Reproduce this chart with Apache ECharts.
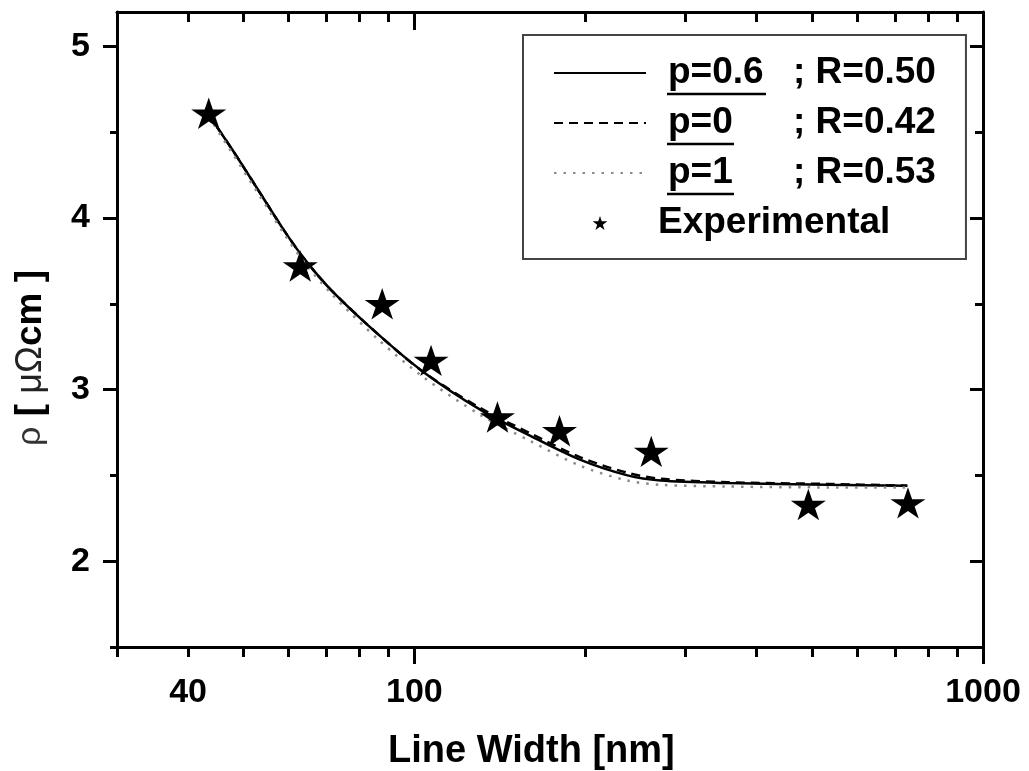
<!DOCTYPE html>
<html>
<head>
<meta charset="utf-8">
<script src="https://cdn.jsdelivr.net/npm/echarts@6/dist/echarts.min.js"></script>
<style>
html,body{margin:0;padding:0;background:#fff;}
#chart{width:1029px;height:771px;}
</style>
</head>
<body>
<div id="chart"></div>
<script>
// ---- data ----
const fitWidths = [43.5, 47.8, 53.2, 59.2, 64.1, 71.4, 86.5, 104, 131, 160, 196, 237, 271, 356, 532, 736];
const fitP06 = [4.60, 4.40, 4.16, 3.92, 3.76, 3.58, 3.32, 3.10, 2.88, 2.73, 2.59, 2.50, 2.47, 2.455, 2.445, 2.44];
const fitP0  = [4.60, 4.40, 4.16, 3.92, 3.76, 3.58, 3.32, 3.10, 2.89, 2.745, 2.605, 2.515, 2.48, 2.46, 2.45, 2.44];
const fitP1  = [4.59, 4.38, 4.14, 3.90, 3.74, 3.56, 3.29, 3.07, 2.85, 2.70, 2.555, 2.47, 2.445, 2.435, 2.43, 2.43];
const expWidths = [43.5, 63, 87.8, 107, 140, 180, 261, 493, 738];
const expRho = [4.61, 3.72, 3.50, 3.17, 2.84, 2.76, 2.64, 2.33, 2.34];

const fitNames = ['p=0.6', 'p=0', 'p=1'];
const fitR = ['; R=0.50', '; R=0.42', '; R=0.53'];
const expName = 'Experimental';

const xLabelTicks = [40, 100, 1000];
const xMajorTicks = [100, 1000];
const xMinorTicks = [30, 40, 50, 60, 70, 80, 90, 200, 300, 400, 500, 600, 700, 800, 900];
const yLabelTicks = [2, 3, 4, 5];
const yMinorTicks = [1.5, 2.5, 3.5, 4.5];
const xMin = 30, xMax = 1000, yMin = 1.5, yMax = 5.2;

// ---- chart ----
const FONT = '"Liberation Sans", Arial, sans-serif';
const INK = '#000';
const lg = v => Math.log10(v);
const pair = (xs, ys) => xs.map((x, i) => [x, ys[i]]);
const starPath = 'path://M50,0 L61.23,34.55 L97.55,34.55 L68.17,55.9 L79.39,90.45 L50,69.1 L20.61,90.45 L31.83,55.9 L2.45,34.55 L38.77,34.55 Z';

function tickAxisX(position, ticks, len, inside, withLine, labels) {
  return {
    type: 'value', position: position, min: lg(xMin), max: lg(xMax),
    axisLine: {show: withLine, onZero: false, lineStyle: {color: INK, width: 3}},
    axisTick: {show: true, inside: inside, length: len, customValues: ticks.map(lg), lineStyle: {color: INK, width: 3}},
    axisLabel: labels ? {
      show: true, customValues: labels.map(lg), margin: 29,
      formatter: v => String(Math.round(Math.pow(10, v))),
      color: INK, fontFamily: FONT, fontWeight: 'bold', fontSize: 34
    } : {show: false},
    splitLine: {show: false}
  };
}
function tickAxisY(position, ticks, len, inside, withLine, labels) {
  return {
    type: 'value', position: position, min: yMin, max: yMax,
    axisLine: {show: withLine, onZero: false, lineStyle: {color: INK, width: 3}},
    axisTick: {show: true, inside: inside, length: len, customValues: ticks, lineStyle: {color: INK, width: 3}},
    axisLabel: labels ? {
      show: true, customValues: labels, margin: 27,
      color: INK, fontFamily: FONT, fontWeight: 'bold', fontSize: 34
    } : {show: false},
    splitLine: {show: false}
  };
}

const chart = echarts.init(document.getElementById('chart'), null, {renderer: 'canvas'});
const lineBase = {type: 'line', xAxisIndex: 0, yAxisIndex: 0, showSymbol: false, symbol: 'none', smooth: 0.3, z: 2};
const hiddenMarker = {opacity: 0};

const option = {
  animation: false,
  backgroundColor: '#fff',
  grid: {left: 117, right: 46, top: 12, bottom: 124},
  xAxis: [
    {type: 'log', logBase: 10, min: xMin, max: xMax, show: false},
    tickAxisX('bottom', xMajorTicks, 17, false, true, xLabelTicks),
    tickAxisX('bottom', xMinorTicks, 10, false, false, null),
    tickAxisX('top', xMajorTicks, 18, true, true, null),
    tickAxisX('top', xMinorTicks, 10, true, false, null)
  ],
  yAxis: [
    tickAxisY('left', yLabelTicks, 14, false, true, yLabelTicks),
    tickAxisY('left', yMinorTicks, 7, false, false, null),
    tickAxisY('right', yLabelTicks, 13, true, true, null),
    tickAxisY('right', yMinorTicks, 8, true, false, null)
  ],
  legend: {
    orient: 'vertical', left: 523, top: 35,
    padding: [18, 30, 16, 30],
    itemWidth: 92, itemHeight: 14, itemGap: 10,
    borderColor: '#444', borderWidth: 2, backgroundColor: '#fff',
    data: [
      {name: fitNames[0], itemStyle: hiddenMarker},
      {name: fitNames[1], itemStyle: hiddenMarker},
      {name: fitNames[2], itemStyle: hiddenMarker},
      {name: expName, icon: starPath}
    ],
    formatter: function (name) {
      const i = fitNames.indexOf(name);
      if (i >= 0) return '{sp| }{a|' + name + '}{b|' + fitR[i] + '}';
      return '{sp2| }{a|' + name + '}';
    },
    textStyle: {
      color: INK, fontFamily: FONT, fontWeight: 'bold', fontSize: 37, lineHeight: 40,
      rich: {
        sp: {width: 17, fontSize: 37, lineHeight: 40},
        sp2: {width: 7, fontSize: 37, lineHeight: 40},
        a: {width: 125, color: INK, fontFamily: FONT, fontWeight: 'bold', fontSize: 37, lineHeight: 40},
        b: {color: INK, fontFamily: FONT, fontWeight: 'bold', fontSize: 37, lineHeight: 40}
      }
    }
  },
  graphic: [
    {type: 'line', shape: {x1: 667, y1: 94, x2: 766, y2: 94}, style: {stroke: INK, lineWidth: 2.5}, z: 100},
    {type: 'line', shape: {x1: 667, y1: 144, x2: 734, y2: 144}, style: {stroke: INK, lineWidth: 2.5}, z: 100},
    {type: 'line', shape: {x1: 667, y1: 194, x2: 734, y2: 194}, style: {stroke: INK, lineWidth: 2.5}, z: 100},
    {
      type: 'text', left: 388, top: 733,
      style: {text: 'Line Width [nm]', fill: INK, font: 'bold 38px ' + FONT}
    },
    {
      type: 'text', x: 31, y: 358, rotation: Math.PI / 2,
      style: {
        text: '{r|ρ} {b|[} {s|μΩ}{b|cm} {b|]}',
        align: 'center', verticalAlign: 'middle',
        rich: {
          r: {fill: '#333', fontFamily: FONT, fontSize: 34, fontWeight: 'normal'},
          s: {fill: '#222', fontFamily: FONT, fontSize: 36, fontWeight: 'normal'},
          b: {fill: INK, fontFamily: FONT, fontSize: 37, fontWeight: 'bold'}
        },
        fill: INK, fontFamily: FONT, fontSize: 37, fontWeight: 'bold'
      }
    }
  ],
  series: [
    Object.assign({}, lineBase, {name: fitNames[0], data: pair(fitWidths, fitP06),
      lineStyle: {color: INK, width: 2.5, type: 'solid'}, itemStyle: {color: INK}}),
    Object.assign({}, lineBase, {name: fitNames[1], data: pair(fitWidths, fitP0),
      lineStyle: {color: INK, width: 2.5, type: [9, 6]}, itemStyle: {color: INK}}),
    Object.assign({}, lineBase, {name: fitNames[2], data: pair(fitWidths, fitP1),
      lineStyle: {color: '#8a8a8a', width: 2.5, type: [2.5, 7]}, itemStyle: {color: '#8a8a8a'}}),
    {
      type: 'scatter', name: expName, xAxisIndex: 0, yAxisIndex: 0,
      data: pair(expWidths, expRho), symbol: starPath, symbolKeepAspect: true,
      symbolSize: [35, 33], itemStyle: {color: INK, opacity: 1}, z: 5
    }
  ]
};
chart.setOption(option);
</script>
</body>
</html>
